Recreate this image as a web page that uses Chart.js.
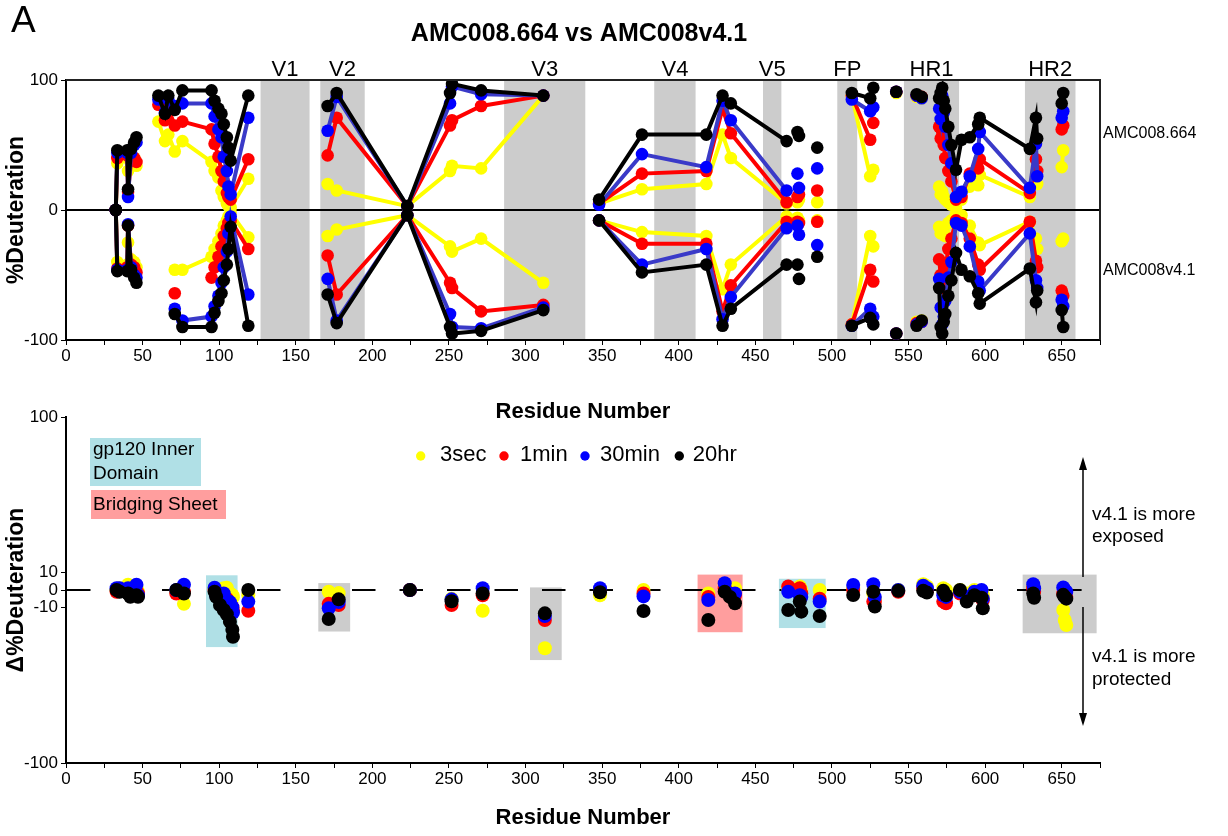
<!DOCTYPE html>
<html><head><meta charset="utf-8">
<script src="https://cdn.jsdelivr.net/npm/chart.js@4.4.0/dist/chart.umd.min.js"></script>
<style>
html,body{margin:0;padding:0;background:#fff;width:1228px;height:836px;overflow:hidden;}
#c1{position:absolute;left:0;top:0;}
#c2{position:absolute;left:0;top:390px;}
</style></head><body>
<canvas id="c1" width="1228" height="430"></canvas>
<canvas id="c2" width="1228" height="446"></canvas>
<script>
// ---------------- DATA ----------------
const timeLabels = ['3sec', '1min', '30min', '20hr'];
const xTickValues = [0,50,100,150,200,250,300,350,400,450,500,550,600,650];

// peptide midpoints (residue number) for the butterfly plot
const residues = [32.5,33.5,40,40.5,42.5,44.5,46,
  60.3,64.6,66.8,71,76,95,97,99.5,101.5,103,105,106,107.5,119,
  170.8,176.7,222.8,250.7,252,271,311.6,
  348,376,418,428.6,434,470.4,
  477.5,478.5,490.4,
  513,525,527,
  542,
  555.3,558.6,
  570,571,572,573,574,576,578,581,584.6,590,595.5,596.5,629.2,633.2,634,
  650,651];
// 1 = connected to previous peptide by the line, 0 = line break
const joined = [0,1,1,1,1,1,1,
  0,1,1,1,1,1,1,1,1,1,1,1,1,1,
  0,1,1,1,1,1,1,
  0,1,1,1,1,1,
  0,0,0,
  0,1,0,
  0,
  0,1,
  0,1,1,1,1,1,1,1,1,1,1,1,1,1,1,
  0,1];

// AMC008.664 (%D, upper half)
const top3s  = [0,36,40,30,35,40,34, 68,53,58,45,53,37,30,25,15,10,5,3,2,24, 20,15,3,30,34,32,88, 5,16,20,58,40,5, 6,8,6, 88,26,31, 90, 87,86, 18,12,14,10,8,6,4,2,8,18,19,27,10,25,20, 33,46];
const top1m  = [0,40,42,14,38,40,37, 81,69,78,65,68,62,51,41,30,22,13,10,8,39, 42,71,3,65,69,80,88, 5,28,30,78,59,6, 10,12,15, 88,54,67, 91, 88,87, 64,55,60,50,40,30,22,8,10,28,32,39,13,39,30, 62,65];
const top30m = [0,44,44,10,44,50,52, 85,75,85,80,82,82,72,62,56,41,30,18,12,71, 61,87,3,82,95,89,88, 4,43,33,84,69,15, 28,17,32, 85,76,79, 91, 88,86, 78,70,88,75,64,50,36,10,14,26,47,60,17,51,26, 71,76];
const top20h = [0,46,46,16,47,52,56, 88,74,88,77,92,92,84,78,74,66,56,48,38,88, 80,90,3,90,97,92,88, 8,58,58,88,82,53, 60,57,48, 90,86,94, 91, 89,87, 86,90,94,84,78,64,50,31,54,56,66,71,47,71,55, 82,90];

// AMC008v4.1 (%D, mirrored lower half)
const bot3s  = [0,-40,-42,-25,-38,-40,-44, null,null,null,-46,-46,-36,-30,-24,-18,-12,-8,-5,-2,-21, -20,-15,-4,-28,-32,-22,-56, -8,-17,-20,-61,-42,-5, -6,-8,-8, -88,-20,-28, -95, -86,-85, -13,-18,-14,-16,-20,-10,-8,-3,-4,-12,-25,-27,-9,-22,-30, -24,-22];
const bot1m  = [0,-45,-44,-12,-42,-44,-48, null,null,null,-64,null,-52,-44,-36,-28,-20,-14,-10,-8,-30, -35,-65,-4,-56,-60,-78,-73, -8,-26,-26,-78,-58,-9, -9,-10,-9, -88,-46,-55, -95, -87,-86, -38,-50,-60,-56,-45,-30,-22,-8,-10,-22,-42,-46,-9,-39,-44, -62,-66];
const bot30m = [0,-46,-46,-11,-44,-50,-52, null,null,null,-76,-85,-82,-74,-66,-56,-44,-32,-18,-5,-65, -53,-85,-4,-80,-90,-91,-75, -8,-42,-30,-84,-67,-14, -12,-19,-27, -89,-76,-82, -95, -88,-86, -53,-75,-88,-82,-70,-52,-40,-10,-12,-28,-55,-62,-18,-54,-60, -69,-74];
const bot20h = [0,-47,-47,-12,-46,-52,-56, null,null,null,-80,-90,-90,-79,-70,-64,-54,-42,-30,-13,-89, -65,-87,-4,-90,-95,-93,-77, -8,-48,-42,-89,-76,-42, -42,-53,-36, -89,-83,-88, -95, -89,-85, -60,-90,-95,-86,-80,-66,-54,-33,-46,-51,-64,-72,-45,-71,-62, -77,-90];

// variable / functional regions (residue ranges)
const regionNames = ['V1','V2','V3','V4','V5','FP','HR1','HR2'];
const regionStart = [127,166,286,384,455,503.5,547,626];
const regionEnd   = [159,195,339,411,467,516.5,583,659];

// difference plot (v4.1 - 664)
const deltaRes = [33,35,40.5,42,46,47,72,77,97,98, 100.5,103,105,107,108.6,109,119,171.5,178,224.5,
  251.7,272,312.6,348.6,377,419.3,430,433.4,436.7,471.5, 479,480,492,513.9,527,528,543.3,559.6,562,572.7,
  574.5,583.6,588,593,597.7,598.5,631.4,632,651,652,653];
const d3s  = [0,1,3,0,1,-1,-1,-8,1,-1, -2,1,1.3,-2,-3,-4,-3,-1,-1.8,0, -5,-12,-33.7,-3,0,-2,2,0,1,1, 2,0,0,1,-2,-5,0,3.3,2,1, 0,0,-2,0,-1,-3,2,0,-11.6,-17.3,-20.2];
const d1m  = [-1,0,0,-2,-1,-2,-2,-1,0,-2, -5,-4,-5,-8,-10,-12,-12,-8,-8.7,0, -8.7,-3,-17.3,0,-2,-4,1,-2,-3,2, 1,-2,-5,0,-6.7,-7,-1,1,0,-6.7, -7.7,-2,-5,-3,-4,-6,1,-1,-2,-3,-4];
const d30m = [1,1,1,-2,3,-3,0,3,1.3,-3, -3,-2,-6,-7,-10,-13,-6.7,-10.6,-7,0, -5.4,1,-15,1,-3.7,-5.8,3.9,-2,-2,-1, -3,-4,-6.7,2.9,3.3,-4,0,2.5,1,-3, -4,-1,-4,-1,0,-5,3.3,1,1.5,0,-1];
const d20h = [0,-1,-2,-3.9,-3,-3.9,0,-2,-1,-3.9, -8.7,-11.6,-14,-18.3,-23,-27,0,-16.8,-5.4,0, -6.5,-2,-13.5,-1.3,-12.1,-17.3,-1,-4,-7.7,-11.6, -6.7,-12.5,-15,-2.9,-1,-9.6,-0.5,-0.5,-1.5,-0.5, -3,0,-6.7,-3,-4.5,-10.6,-2,-4.5,-2.8,-4,-5];

// highlighted boxes in the difference plot (residue range, %D range, kind)
const boxStart = [91.4,164.7,302.9,412.3,465.4,624.5];
const boxEnd   = [112,185.5,323.6,441.7,495.9,672.8];
const boxHigh  = [8.5,4,1.5,8.9,6.5,8.9];
const boxLow   = [-33,-24,-40.5,-24.4,-22,-25];
const boxKind  = ['inner','grey','grey','sheet','inner','grey'];

// ---------------- STYLE ----------------
const FONT = '"Liberation Sans", Arial, Helvetica, sans-serif';
Chart.defaults.font.family = FONT;
Chart.defaults.color = '#000';
const pointColors = ['#ffff00','#ff0000','#0000ff','#000000'];
const lineColors  = ['#ffff00','#ff0000','#3a3ac8','#000000'];
const kindColors = {inner:'#b0e0e6', sheet:'#ff9e9e', grey:'#cccccc'};
const GREY = '#cccccc';

function series(vals){
  const pts = [];
  residues.forEach((r,i)=>{
    if(!joined[i] && pts.length) pts.push({x:r, y:null});
    pts.push({x:r, y:vals[i]});
  });
  return pts;
}

const topSets = [top3s, top1m, top30m, top20h];
const botSets = [bot3s, bot1m, bot30m, bot20h];
const butterflyDatasets = [];
for (let c = 3; c >= 0; c--) {
  [topSets[c], botSets[c]].forEach(vals=>{
    butterflyDatasets.push({
      label: timeLabels[c],
      data: series(vals),
      borderColor: lineColors[c],
      backgroundColor: pointColors[c],
      pointBackgroundColor: pointColors[c],
      pointBorderWidth: 0,
      pointRadius: 6.3,
      borderWidth: 4,
      spanGaps: false,
      order: 3 - c
    });
  });
}

function xScaleOpts(h){
  return {
    type:'linear', min:0, max:675,
    afterBuildTicks: s => { const t=[]; for(let v=0; v<=675; v+=25) t.push({value:v}); s.ticks=t; },
    ticks:{autoSkip:false, maxRotation:0, padding:1, font:{size:17},
      callback: v => (xTickValues.includes(v) ? String(v) : '')},
    grid:{drawOnChartArea:false, drawTicks:true, tickLength:5, color:'#000', lineWidth:1},
    border:{display:true, color:'#000', width:2},
    title:{display:true, text:'Residue Number', font:{size:22, weight:'bold'}, padding:{top:0,bottom:5}},
    afterFit: s => { s.height = h; }
  };
}

// ---------------- TOP CHART ----------------
const topDecor = {
  id:'topDecor',
  beforeDatasetsDraw(chart){
    const {ctx, chartArea:a, scales:{x,y}} = chart;
    ctx.save();
    ctx.fillStyle = GREY;
    regionStart.forEach((s,i)=>{
      const x0 = x.getPixelForValue(s), x1 = x.getPixelForValue(regionEnd[i]);
      ctx.fillRect(x0, a.top+1, x1-x0, a.bottom-a.top-2);
    });
    ctx.strokeStyle = '#000'; ctx.lineWidth = 2;
    const y0 = y.getPixelForValue(0);
    ctx.beginPath(); ctx.moveTo(a.left, y0); ctx.lineTo(a.right, y0); ctx.stroke();
    ctx.restore();
  },
  afterDraw(chart){
    const {ctx, chartArea:a, scales:{x,y}} = chart;
    ctx.save();
    ctx.strokeStyle = '#222'; ctx.lineWidth = 2;
    ctx.beginPath(); ctx.moveTo(a.left, a.top); ctx.lineTo(a.right, a.top); ctx.lineTo(a.right, a.bottom); ctx.stroke();
    ctx.fillStyle = '#000';
    ctx.font = '22px ' + FONT; ctx.textAlign = 'center'; ctx.textBaseline = 'alphabetic';
    regionNames.forEach((n,i)=>{
      ctx.fillText(n, x.getPixelForValue((regionStart[i]+regionEnd[i])/2), 76);
    });
    ctx.font = '16px ' + FONT; ctx.textAlign = 'left'; ctx.textBaseline = 'middle';
    ctx.fillText('AMC008.664', a.right + 3, 134);
    ctx.fillText('AMC008v4.1', a.right + 3, 271);
    ctx.font = 'bold 25px ' + FONT; ctx.textAlign = 'center'; ctx.textBaseline = 'alphabetic';
    ctx.fillText('AMC008.664 vs AMC008v4.1', 579, 41);
    ctx.font = '37px ' + FONT; ctx.textAlign = 'left';
    ctx.fillText('A', 11, 32);
    ctx.restore();
  }
};

new Chart(document.getElementById('c1'), {
  type:'line',
  data:{datasets: butterflyDatasets},
  options:{
    responsive:false, animation:false, events:[],
    layout:{padding:{left:0, right:128, top:80, bottom:0}},
    plugins:{legend:{display:false}, tooltip:{enabled:false}},
    scales:{
      x: xScaleOpts(90),
      y:{min:-100, max:100,
        afterBuildTicks: s => { s.ticks = [{value:-100},{value:0},{value:100}]; },
        ticks:{padding:3, font:{size:17}},
        grid:{drawOnChartArea:false, drawTicks:true, tickLength:5, color:'#000'},
        border:{display:true, color:'#000', width:2},
        title:{display:true, text:'%Deuteration', font:{size:23, weight:'bold'}, padding:{top:3,bottom:0}},
        afterFit: s => { s.width = 66; }
      }
    }
  },
  plugins:[topDecor]
});

// ---------------- BOTTOM CHART ----------------
const deltaSets = [d3s, d1m, d30m, d20h];
const deltaDatasets = [];
for (let c = 3; c >= 0; c--) {
  deltaDatasets.push({
    label: timeLabels[c],
    data: deltaRes.map((r,i)=>({x:r, y:deltaSets[c][i]})),
    backgroundColor: pointColors[c],
    pointBackgroundColor: pointColors[c],
    pointBorderWidth: 0,
    pointRadius: 7,
    showLine:false,
    order: 3 - c
  });
}

const botDecor = {
  id:'botDecor',
  beforeDatasetsDraw(chart){
    const {ctx, chartArea:a, scales:{x,y}} = chart;
    ctx.save();
    boxStart.forEach((s,i)=>{
      const x0 = x.getPixelForValue(s), x1 = x.getPixelForValue(boxEnd[i]);
      const y0 = y.getPixelForValue(boxHigh[i]), y1 = y.getPixelForValue(boxLow[i]);
      ctx.fillStyle = kindColors[boxKind[i]];
      ctx.fillRect(x0, y0, x1-x0, y1-y0);
    });
    ctx.strokeStyle = '#000'; ctx.lineWidth = 2; ctx.setLineDash([23.5, 24]);
    const yz = y.getPixelForValue(0);
    ctx.beginPath(); ctx.moveTo(x.getPixelForValue(0)+1, yz); ctx.lineTo(x.getPixelForValue(663), yz); ctx.stroke();
    ctx.restore();
  },
  afterDraw(chart){
    const {ctx} = chart;
    const T = 390; // canvas offset on page
    ctx.save();
    // region legend boxes
    ctx.fillStyle = kindColors.inner; ctx.fillRect(90, 438-T, 111, 48);
    ctx.fillStyle = kindColors.sheet; ctx.fillRect(91, 490-T, 135, 29);
    ctx.fillStyle = '#000'; ctx.font = '19px ' + FONT; ctx.textAlign = 'left'; ctx.textBaseline = 'middle';
    ctx.fillText('gp120 Inner', 93, 450-T);
    ctx.fillText('Domain', 93, 474-T);
    ctx.fillText('Bridging Sheet', 93, 505-T);
    // time legend
    const lx = [420.7, 504, 585, 679.3], tx = [440, 520, 600, 692.7];
    ctx.font = '22px ' + FONT;
    for (let c = 0; c < 4; c++) {
      ctx.fillStyle = pointColors[c];
      ctx.beginPath(); ctx.arc(lx[c], 456-T, 4.7, 0, Math.PI*2); ctx.fill();
      ctx.fillStyle = '#000';
      ctx.fillText(timeLabels[c], tx[c], 455-T);
    }
    // arrows
    const ax = 1083;
    ctx.strokeStyle = '#000'; ctx.lineWidth = 1.5;
    ctx.beginPath(); ctx.moveTo(ax, 466-T); ctx.lineTo(ax, 577-T); ctx.stroke();
    ctx.beginPath(); ctx.moveTo(ax, 607-T); ctx.lineTo(ax, 717-T); ctx.stroke();
    ctx.beginPath(); ctx.moveTo(ax, 457-T); ctx.lineTo(ax-4, 470-T); ctx.lineTo(ax+4, 470-T); ctx.closePath(); ctx.fill();
    ctx.beginPath(); ctx.moveTo(ax, 726-T); ctx.lineTo(ax-4, 713-T); ctx.lineTo(ax+4, 713-T); ctx.closePath(); ctx.fill();
    ctx.font = '19px ' + FONT; ctx.textAlign = 'left';
    ctx.fillText('v4.1 is more', 1092, 515-T);
    ctx.fillText('exposed', 1092, 537-T);
    ctx.fillText('v4.1 is more', 1092, 657-T);
    ctx.fillText('protected', 1092, 680-T);
    ctx.restore();
  }
};

new Chart(document.getElementById('c2'), {
  type:'scatter',
  data:{datasets: deltaDatasets},
  options:{
    responsive:false, animation:false, events:[],
    layout:{padding:{left:0, right:128, top:27, bottom:0}},
    plugins:{legend:{display:false}, tooltip:{enabled:false}},
    scales:{
      x: xScaleOpts(73),
      y:{min:-100, max:100,
        afterBuildTicks: s => { s.ticks = [{value:-100},{value:-10},{value:0},{value:10},{value:100}]; },
        ticks:{padding:3, font:{size:17}},
        grid:{drawOnChartArea:false, drawTicks:true, tickLength:5, color:'#000'},
        border:{display:true, color:'#000', width:2},
        title:{display:true, text:'Δ%Deuteration', font:{size:23, weight:'bold'}, padding:{top:3,bottom:0}},
        afterFit: s => { s.width = 66; }
      }
    }
  },
  plugins:[botDecor]
});
</script></body></html>
